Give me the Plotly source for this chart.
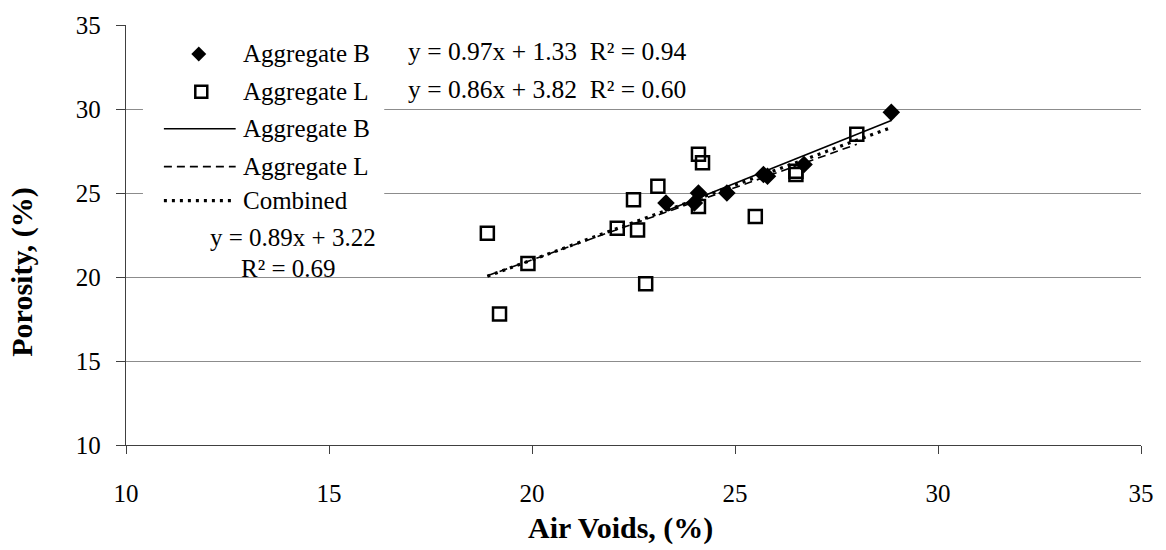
import plotly.graph_objects as go

# ---- data ----
b_x = [23.3, 24.0, 24.1, 24.8, 25.7, 25.8, 26.7, 28.85]
b_y = [24.4, 24.4, 25.0, 25.0, 26.1, 26.0, 26.7, 29.8]
l_x = [18.9, 19.2, 19.9, 22.1, 22.5, 22.6, 22.8, 23.1, 24.1, 24.1, 24.2, 25.5, 26.5, 26.5, 28.0]
l_y = [22.6, 17.8, 20.8, 22.9, 24.6, 22.8, 19.6, 25.4, 24.2, 27.3, 26.8, 23.6, 26.3, 26.1, 28.5]
fit_names = ["Aggregate B", "Aggregate L", "Combined"]
fit_slope = [0.97, 0.86, 0.89]
fit_icept = [1.33, 3.82, 3.22]
fit_r2 = [0.94, 0.60, 0.69]
x_ticks = [10, 15, 20, 25, 30, 35]
y_ticks = [10, 15, 20, 25, 30, 35]
x_title = "Air Voids, (%)"
y_title = "Porosity, (%)"

FONT = "Liberation Serif"
FS = 25
TFS = 30
W, H = 1166, 550
L, R, T, B = 126, 22, 24, 105
PW, PH = W - L - R, H - T - B


def px(x):
    return (x - L) / PW


def py(y):
    return (H - B - y) / PH


fig = go.Figure()

fig.add_trace(go.Scatter(x=b_x, y=b_y, mode="markers", name="Aggregate B",
                         marker=dict(symbol="diamond", size=13.5, color="black"),
                         showlegend=False))
fig.add_trace(go.Scatter(x=l_x, y=l_y, mode="markers", name="Aggregate L",
                         marker=dict(symbol="square-open", size=13, color="black",
                                     line=dict(width=2.5, color="black")),
                         showlegend=False))

ranges = [(min(b_x), max(b_x)), (min(l_x), max(l_x)),
          (min(b_x + l_x), max(b_x + l_x))]
dashes = ["solid", "8px,5px", "3px,5px"]
widths = [1.6, 1.6, 3.2]
for i in range(3):
    x0, x1 = ranges[i]
    xs = [x0, x1]
    ys = [fit_slope[i] * v + fit_icept[i] for v in xs]
    fig.add_trace(go.Scatter(x=xs, y=ys, mode="lines", name=fit_names[i],
                             line=dict(color="black", width=widths[i], dash=dashes[i]),
                             showlegend=False))

shapes = []
annotations = []
# legend background
shapes.append(dict(type="rect", xref="paper", yref="paper",
                   x0=px(143), x1=px(385), y0=py(214), y1=py(31),
                   fillcolor="white", line=dict(width=0), layer="above"))
# diamond marker sample
cx, cy, s = 199, 53, 7.5
shapes.append(dict(type="path", xref="paper", yref="paper",
                   path=f"M {px(cx)},{py(cy - s)} L {px(cx + s)},{py(cy)} L {px(cx)},{py(cy + s)} L {px(cx - s)},{py(cy)} Z",
                   fillcolor="black", line=dict(width=0), layer="above"))
# square sample
shapes.append(dict(type="rect", xref="paper", yref="paper",
                   x0=px(195.5), x1=px(207.5), y0=py(97), y1=py(85),
                   fillcolor="white", line=dict(color="black", width=2.5), layer="above"))
# line samples
for yy, dsh, wd in [(128, "solid", 1.6), (166, "8px,5px", 1.6), (200, "3px,5px", 3.2)]:
    shapes.append(dict(type="line", xref="paper", yref="paper",
                       x0=px(164), x1=px(236), y0=py(yy), y1=py(yy),
                       line=dict(color="black", width=wd, dash=dsh), layer="above"))

leg_rows = [("Aggregate B", 53), ("Aggregate L", 91), ("Aggregate B", 128),
            ("Aggregate L", 166), ("Combined", 200)]
for txt, yy in leg_rows:
    annotations.append(dict(xref="paper", yref="paper", x=px(241), y=py(yy),
                            xanchor="left", yanchor="middle", text=txt, showarrow=False,
                            font=dict(family=FONT, size=FS, color="black")))

# equations
for i, yy in [(0, 51), (1, 89)]:
    annotations.append(dict(xref="paper", yref="paper", x=px(407), y=py(yy),
                            xanchor="left", yanchor="middle", showarrow=False,
                            text=f"y = {fit_slope[i]:.2f}x + {fit_icept[i]:.2f}&nbsp;&nbsp;R² = {fit_r2[i]:.2f}",
                            font=dict(family=FONT, size=FS + 0.5, color="black")))
annotations.append(dict(xref="paper", yref="paper", x=px(293), y=py(237),
                        xanchor="center", yanchor="middle", showarrow=False,
                        text=f"y = {fit_slope[2]:.2f}x + {fit_icept[2]:.2f}",
                        font=dict(family=FONT, size=FS, color="black")))
annotations.append(dict(xref="paper", yref="paper", x=px(289), y=py(268),
                        xanchor="center", yanchor="middle", showarrow=False,
                        text=f"R² = {fit_r2[2]:.2f}",
                        font=dict(family=FONT, size=FS, color="black")))

# axis titles
annotations.append(dict(xref="paper", yref="paper", x=px(622), y=py(528),
                        xanchor="center", yanchor="middle", showarrow=False,
                        text=f"<b>{x_title}</b>",
                        font=dict(family=FONT, size=TFS, color="black")))
annotations.append(dict(xref="paper", yref="paper", x=px(22), y=py(272),
                        xanchor="center", yanchor="middle", showarrow=False,
                        textangle=-90, text=f"<b>{y_title}</b>",
                        font=dict(family=FONT, size=TFS, color="black")))

fig.update_layout(
    width=W, height=H,
    margin=dict(l=L, r=R, t=T, b=B),
    paper_bgcolor="white", plot_bgcolor="white",
    font=dict(family=FONT, size=FS, color="black"),
    showlegend=False,
    shapes=shapes, annotations=annotations,
    xaxis=dict(range=[10, 35], tickvals=x_ticks, showgrid=False,
               showline=True, linecolor="#404040", linewidth=1.3,
               ticks="outside", ticklen=8, tickcolor="#404040", tickwidth=1.3,
               ticklabelstandoff=18, zeroline=False),
    yaxis=dict(range=[10, 35], tickvals=y_ticks, showgrid=True,
               gridcolor="#8c8c8c", gridwidth=1.3,
               showline=True, linecolor="#404040", linewidth=1.3,
               ticks="outside", ticklen=9, tickcolor="#404040", tickwidth=1.3,
               ticklabelstandoff=10, zeroline=False),
)

fig.write_html("out.html")
